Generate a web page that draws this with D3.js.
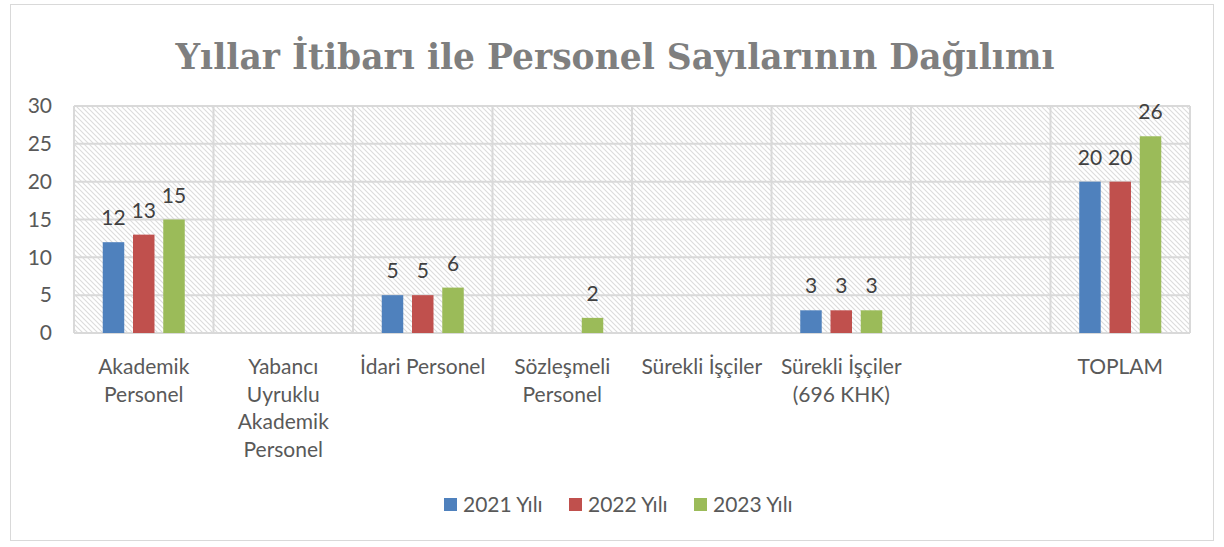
<!DOCTYPE html>
<html>
<head>
<meta charset="utf-8">
<script src="https://cdn.jsdelivr.net/npm/d3@7"></script>
<style>
  body { margin: 0; background: #fff; }
  svg text { font-family: Lato, "Open Sans", sans-serif; }
</style>
</head>
<body>
<div id="chart"></div>
<script>
const categories = [
    ["Akademik", "Personel"],
    ["Yabancı", "Uyruklu", "Akademik", "Personel"],
    ["İdari Personel"],
    ["Sözleşmeli", "Personel"],
    ["Sürekli İşçiler"],
    ["Sürekli İşçiler", "(696 KHK)"],
    [""],
    ["TOPLAM"]
];
const seriesNames = ["2021 Yılı", "2022 Yılı", "2023 Yılı"];
const seriesColors = ["#4f81bd", "#c0504d", "#9bbb59"];
const values2021 = [12, null, 5, null, null, 3, null, 20];
const values2022 = [13, null, 5, null, null, 3, null, 20];
const values2023 = [15, null, 6, 2, null, 3, null, 26];
const yTicks = [0, 5, 10, 15, 20, 25, 30];

function init() {
    const w = 1224, h = 547;
    const left = 74, right = 1190, top = 106, bottom = 333;
    const fs = "21px";

    const svg = d3.select("#chart").append("svg")
        .attr("width", w).attr("height", h);

    // hatch pattern for the plot area
    const pat = svg.append("defs").append("pattern")
        .attr("id", "hatch")
        .attr("patternUnits", "userSpaceOnUse")
        .attr("width", 5).attr("height", 5);
    pat.append("rect").attr("width", 5).attr("height", 5).attr("fill", "#fff");
    pat.append("path")
        .attr("d", "M-1,-1 L6,6 M-1,4 L1,6 M4,-1 L6,1")
        .attr("stroke", "#dcdcdc").attr("stroke-width", 1.1);

    // chart frame
    svg.append("rect")
        .attr("x", 10.5).attr("y", 4.5)
        .attr("width", 1203).attr("height", 536)
        .attr("fill", "#fff").attr("stroke", "#d9d9d9");

    svg.append("text")
        .attr("x", 615).attr("y", 69)
        .attr("text-anchor", "middle")
        .style("font-family", "'DejaVu Serif', serif")
        .style("font-weight", "bold")
        .style("font-size", "34.5px")
        .attr("fill", "#7f7f7f")
        .text("Yıllar İtibarı ile Personel Sayılarının Dağılımı");

    const x = d3.scaleBand()
        .domain(d3.range(categories.length))
        .range([left, right]);
    const y = d3.scaleLinear().domain([0, 30]).range([bottom, top]);

    svg.append("rect")
        .attr("x", left).attr("y", top)
        .attr("width", right - left).attr("height", bottom - top)
        .attr("fill", "url(#hatch)");

    // gridlines
    svg.append("g").selectAll("line")
        .data(yTicks)
        .enter().append("line")
        .attr("x1", left).attr("x2", right)
        .attr("y1", d => y(d)).attr("y2", d => y(d))
        .attr("stroke", "#d9d9d9").attr("stroke-width", 2);
    svg.append("g").selectAll("line")
        .data(d3.range(categories.length + 1))
        .enter().append("line")
        .attr("x1", d => left + d * x.step()).attr("x2", d => left + d * x.step())
        .attr("y1", top).attr("y2", bottom)
        .attr("stroke", "#d9d9d9").attr("stroke-width", 2);

    // y axis labels
    const yAxis = d3.axisLeft(y).tickValues(yTicks).tickSize(0).tickPadding(22);
    const ga = svg.append("g").attr("transform", `translate(${left},0)`).call(yAxis);
    ga.select(".domain").remove();
    ga.selectAll("text")
        .style("font-family", "Lato, sans-serif")
        .style("font-size", fs).attr("fill", "#595959");

    // bars
    const sub = d3.scaleBand().domain(d3.range(3)).range([-41, 41]).paddingInner(0.29);
    const allSeries = [values2021, values2022, values2023];
    allSeries.forEach(function (vals, si) {
        const g = svg.append("g");
        const pts = vals.map((v, i) => ({ v: v, i: i })).filter(d => d.v !== null);
        g.selectAll("rect")
            .data(pts).enter().append("rect")
            .attr("x", d => x(d.i) + x.bandwidth() / 2 + sub(si))
            .attr("width", sub.bandwidth())
            .attr("y", d => y(d.v))
            .attr("height", d => y(0) - y(d.v))
            .attr("fill", seriesColors[si]);
        g.selectAll("text")
            .data(pts).enter().append("text")
            .attr("x", d => x(d.i) + x.bandwidth() / 2 + sub(si) + sub.bandwidth() / 2)
            .attr("y", d => y(d.v) - 17)
            .attr("text-anchor", "middle")
            .style("font-size", fs)
            .attr("fill", "#404040")
            .text(d => d.v);
    });

    // category labels
    const xl = svg.append("g");
    categories.forEach(function (lines, i) {
        const t = xl.append("text")
            .attr("x", x(i) + x.bandwidth() / 2)
            .attr("y", 374)
            .attr("text-anchor", "middle")
            .style("font-size", fs)
            .attr("fill", "#595959");
        lines.forEach(function (ln, k) {
            t.append("tspan")
                .attr("x", x(i) + x.bandwidth() / 2)
                .attr("dy", k === 0 ? 0 : 27.5)
                .text(ln);
        });
    });

    // legend
    const legX = [444, 569, 694];
    const leg = svg.append("g");
    seriesNames.forEach(function (name, i) {
        leg.append("rect")
            .attr("x", legX[i]).attr("y", 498)
            .attr("width", 13).attr("height", 13)
            .attr("fill", seriesColors[i]);
        leg.append("text")
            .attr("x", legX[i] + 19).attr("y", 512)
            .style("font-size", fs)
            .attr("fill", "#595959")
            .text(name);
    });
}

window.addEventListener('load', init);
</script>
</body>
</html>
